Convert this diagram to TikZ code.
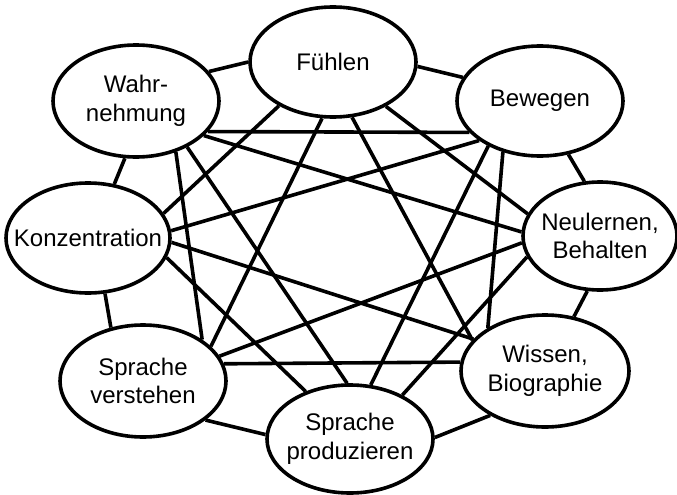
\documentclass[tikz,border=0pt]{standalone}
\usepackage{fontspec}
\setmainfont{Liberation Sans}
\usetikzlibrary{shapes.geometric}
\begin{document}
\begin{tikzpicture}[x=1pt, y=-1pt, line width=3.6pt,
                bubble/.style = {shape=ellipse, draw, align=center,
                        inner sep=-40pt, minimum width=166pt, minimum height=110pt,
                        font=\fontsize{24}{28.5}\selectfont
                    }]
            \useasboundingbox (0,0) rectangle (677,495);
            \node[bubble] (fuehlen) at (333,62) {Fühlen};
            \node[bubble] (bewegen) at (540,101) {Bewegen};
            \node[bubble, minimum width=154pt, minimum height=108pt] (neulernen) at (600,236) {Neulernen,\\Behalten};
            \node[bubble, minimum width=168pt, minimum height=112pt] (wissen) at (545,371) {Wissen,\\Biographie};
            \node[bubble, minimum height=108pt] (sprprod) at (350,439) {Sprache\\produzieren};
            \node[bubble, minimum height=112pt] (sprverst) at (143,381) {Sprache\\verstehen};
            \node[bubble, minimum width=164pt] (konz) at (88,238) {Konzentration};
            \node[bubble, minimum height=112pt] (wahrn) at (136,101) {Wahr-\\nehmung};
            % ring
            \draw (wahrn.22) -- (fuehlen.180);
            \draw (fuehlen.-3) -- (bewegen.163);
            \draw (bewegen.-62) -- (neulernen.106);
            \draw (neulernen.-103) -- (wissen.62);
            \draw (wissen.219) -- (sprprod.1);
            \draw (sprprod.177) -- (sprverst.-32);
            \draw (sprverst.121) -- (konz.-73);
            \draw (konz.64) -- (wahrn.-101);
            % crossings
            \draw (wahrn.-23) -- (bewegen.204);
            \draw (wahrn.-27) -- (neulernen.177);
            \draw (wahrn.-52) -- (sprverst.35);
            \draw (wahrn.-42) -- (sprprod.93);
            \draw (fuehlen.-141) -- (konz.18);
            \draw (fuehlen.-40) -- (neulernen.163);
            \draw (fuehlen.-101) -- (sprverst.27);
            \draw (fuehlen.-71) -- (wissen.157);
            \draw (bewegen.-147) -- (konz.5);
            \draw (bewegen.-139) -- (sprprod.69);
            \draw (bewegen.-126) -- (wissen.143);
            \draw (konz.-3) -- (wissen.156);
            \draw (konz.-14) -- (sprprod.133);
            \draw (sprverst.18) -- (neulernen.185);
            \draw (sprverst.12) -- (wissen.174);
            \draw (sprprod.40) -- (neulernen.196);
        \end{tikzpicture}
\end{document}
